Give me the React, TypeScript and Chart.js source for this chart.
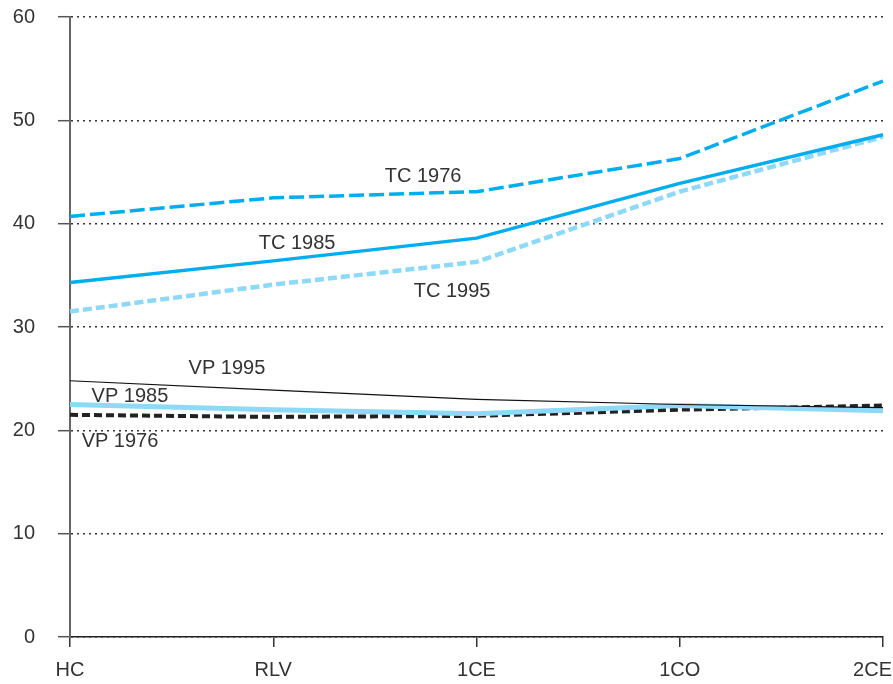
import React, { useEffect, useRef } from "react";
import { Chart, registerables } from "chart.js";

Chart.register(...registerables);

const categories = ["HC", "RLV", "1CE", "1CO", "2CE"];
const yTicks = [0, 10, 20, 30, 40, 50, 60];

const tc1976 = [40.7, 42.5, 43.1, 46.3, 53.8];
const tc1985 = [34.3, 36.4, 38.6, 43.9, 48.6];
const tc1995 = [31.5, 34.1, 36.3, 43.1, 48.4];
const vp1995 = [24.8, 23.9, 23.0, 22.5, 22.2];
const vp1985 = [22.5, 22.0, 21.6, 22.4, 21.9];
const vp1976 = [21.5, 21.3, 21.4, 22.0, 22.4];

const labelTexts = ["TC 1976", "TC 1985", "TC 1995", "VP 1995", "VP 1985", "VP 1976"];
const labelX = [1.737, 1.117, 1.88, 0.772, 0.295, 0.246];
const labelY = [44.6, 38.1, 33.4, 26.0, 23.3, 18.9];

const FONT = "'Liberation Sans', Arial, sans-serif";

const labelPlugin = {
  id: "seriesLabels",
  beforeDraw(chart: any) {
    // keep the last category label inside the canvas
    const xs = chart.scales.x;
    const items = xs.getLabelItems(chart.chartArea);
    const last = items[items.length - 1];
    if (last && last.options) {
      last.options.textAlign = "right";
      last.options.translation = [chart.width - 1, last.options.translation[1]];
    }
  },
  afterDatasetsDraw(chart: any) {
    const { ctx, scales } = chart;
    ctx.save();
    ctx.font = `20px ${FONT}`;
    ctx.fillStyle = "#333";
    ctx.textAlign = "center";
    ctx.textBaseline = "middle";
    labelTexts.forEach((t, i) => {
      const px = scales.x.getPixelForValue(labelX[i]);
      const py = scales.y.getPixelForValue(labelY[i]);
      ctx.fillText(t, px, py);
    });
    ctx.restore();
  },
};

export default function App() {
  const ref = useRef<HTMLCanvasElement | null>(null);
  useEffect(() => {
    document.body.style.margin = "0";
    if (!ref.current) return;
    const chart = new Chart(ref.current, {
      type: "line",
      data: {
        labels: categories,
        datasets: [
          { label: "VP 1995", data: vp1995, borderColor: "#111", borderWidth: 1.2 },
          { label: "TC 1976", data: tc1976, borderColor: "#00aeef", borderWidth: 3.5, borderDash: [15, 5] },
          { label: "TC 1985", data: tc1985, borderColor: "#00aeef", borderWidth: 3.5 },
          { label: "TC 1995", data: tc1995, borderColor: "#8ed8f8", borderWidth: 4.5, borderDash: [9, 4] },
          { label: "VP 1985", data: vp1985, borderColor: "#8ed8f8", borderWidth: 5 },
          { label: "VP 1976", data: vp1976, borderColor: "#222", borderWidth: 4, borderDash: [8, 4] },
        ].map((d) => ({ ...d, pointRadius: 0, tension: 0, fill: false })),
      },
      options: {
        animation: false,
        responsive: true,
        maintainAspectRatio: false,
        layout: { padding: { top: 0, right: 10, left: 0, bottom: 0 } },
        plugins: { legend: { display: false }, tooltip: { enabled: false } },
        scales: {
          x: {
            type: "category",
            offset: false,
            afterFit: (s: any) => {
              s.height = 47;
              s.paddingRight = 0;
              s.paddingLeft = 0;
            },
            grid: { drawOnChartArea: false, drawTicks: true, tickLength: 10, color: "#333", tickColor: "#333", lineWidth: 1.5 },
            border: { display: true, color: "#222", width: 1.5 },
            ticks: { font: { size: 20, family: FONT }, color: "#333", padding: 11, maxRotation: 0, autoSkip: false },
          },
          y: {
            min: 0,
            max: 60,
            afterFit: (s: any) => {
              s.width = 70;
              s.paddingTop = 17;
              s.paddingBottom = 0;
            },
            afterBuildTicks: (s: any) => {
              s.ticks = yTicks.map((v) => ({ value: v }));
            },
            grid: { color: "#333", lineWidth: 1.4, tickLength: 12, tickColor: "#555", tickBorderDash: [], tickWidth: 1.5 },
            border: { display: true, color: "#666", width: 2, dash: [2, 4] },
            ticks: { font: { size: 20, family: FONT }, color: "#333", padding: 23 },
          },
        },
      },
      plugins: [labelPlugin],
    } as any);
    return () => chart.destroy();
  }, []);
  return (
    <div style={{ width: 893, height: 684, position: "relative" }}>
      <canvas ref={ref} />
    </div>
  );
}
